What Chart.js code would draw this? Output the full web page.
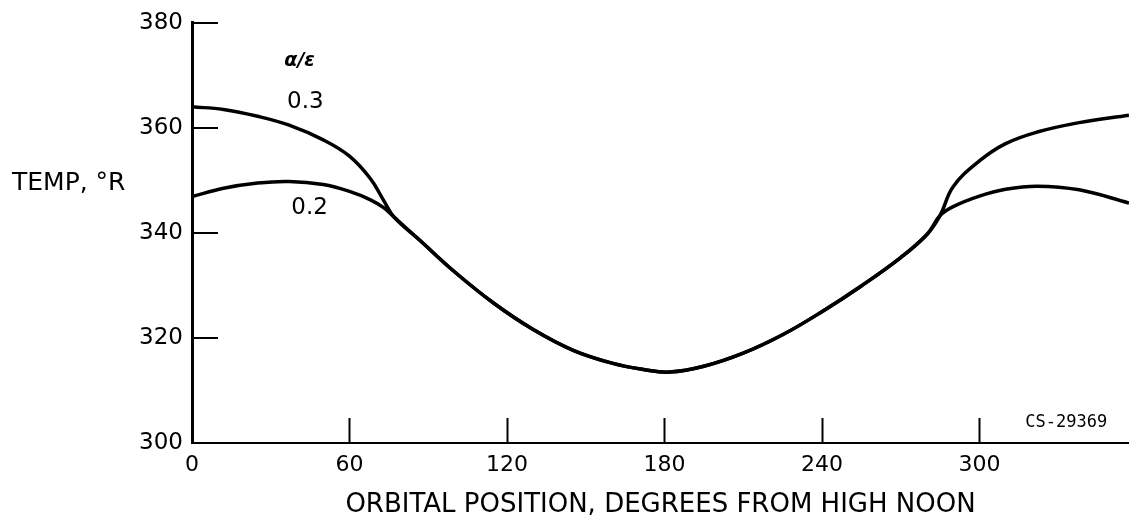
<!DOCTYPE html>
<html>
<head>
<meta charset="utf-8">
<script src="https://cdn.jsdelivr.net/npm/chart.js@4"></script>
<style>
  html, body { margin: 0; padding: 0; background: #fff; }
  #wrap { width: 1129px; height: 521px; }
</style>
</head>
<body>
<div id="wrap"><canvas id="tempChart" width="1129" height="521"></canvas></div>
<script>
// orbital position, degrees from high noon
const angles = [0, 12, 25, 37, 50, 60, 68, 73, 77, 87, 100, 115, 130, 145, 160, 172, 182, 195, 210, 225, 240, 255, 270, 280, 285, 290, 300, 310, 322, 338, 357];
// temperature, deg R, alpha/epsilon = 0.3
const temp03 = [364.0, 363.5, 362.2, 360.5, 357.7, 354.6, 350.3, 346.2, 343.0, 338.5, 332.6, 326.6, 321.6, 317.7, 315.2, 314.0, 313.5, 314.6, 317.1, 320.6, 325.0, 329.9, 335.3, 339.7, 343.3, 348.8, 353.7, 357.0, 359.2, 361.0, 362.4];
// temperature, deg R, alpha/epsilon = 0.2
const temp02 = [346.9, 348.5, 349.5, 349.8, 349.2, 347.9, 346.3, 344.8, 343.0, 338.5, 332.6, 326.6, 321.6, 317.7, 315.2, 314.0, 313.5, 314.6, 317.1, 320.6, 325.0, 329.9, 335.3, 339.7, 343.3, 345.0, 347.0, 348.3, 348.9, 348.2, 345.7];

const xTicks = [0, 60, 120, 180, 240, 300];
const yTicks = [300, 320, 340, 360, 380];
const seriesLabels = ["0.3", "0.2"];
const xTitle = "ORBITAL POSITION, DEGREES FROM HIGH NOON";
const yTitle = "TEMP, \u00B0R";
const ratioTitle = "\u03B1/\u03B5";
const plateNo = "CS-29369";

const FONT = "'DejaVu Sans', sans-serif";

function toPoints(xs, ys) {
  return xs.map((x, i) => ({ x: x, y: ys[i] }));
}

// inward tick marks and the text notes placed on the plot
const notesPlugin = {
  id: "notes",
  afterDraw(chart) {
    const ctx = chart.ctx;
    const xs = chart.scales.x;
    const ys = chart.scales.y;
    ctx.save();
    ctx.strokeStyle = "#000";
    ctx.lineWidth = 2;
    xs.ticks.forEach((t) => {
      if (t.value === xs.min) return;
      const px = Math.round(xs.getPixelForValue(t.value)) + 0.5;
      ctx.beginPath();
      ctx.moveTo(px, ys.bottom);
      ctx.lineTo(px, ys.bottom - 25);
      ctx.stroke();
    });
    ys.ticks.forEach((t) => {
      if (t.value === ys.min) return;
      const py = Math.round(ys.getPixelForValue(t.value));
      ctx.beginPath();
      ctx.moveTo(xs.left, py);
      ctx.lineTo(xs.left + 26, py);
      ctx.stroke();
    });

    ctx.fillStyle = "#000";
    ctx.textBaseline = "middle";
    ctx.textAlign = "left";
    ctx.font = "25px " + FONT;
    ctx.fillText(yTitle, 12, 183);

    ctx.textAlign = "center";
    ctx.font = "italic bold 19px " + FONT;
    ctx.fillText(ratioTitle, xs.getPixelForValue(41), ys.getPixelForValue(372.7));
    ctx.font = "23px " + FONT;
    ctx.fillText(seriesLabels[0], xs.getPixelForValue(43.2), ys.getPixelForValue(365.0));
    ctx.fillText(seriesLabels[1], xs.getPixelForValue(44.8), ys.getPixelForValue(344.7));

    ctx.textAlign = "left";
    ctx.font = "17px 'DejaVu Sans Mono', monospace";
    ctx.fillText(plateNo, xs.getPixelForValue(317.5), ys.getPixelForValue(303.8));
    ctx.restore();
  }
};

const ctx = document.getElementById("tempChart").getContext("2d");
const tempChart = new Chart(ctx, {
  type: "line",
  data: {
    datasets: [
      {
        label: seriesLabels[0],
        data: toPoints(angles, temp03),
        borderColor: "#000",
        borderWidth: 3.5,
        pointRadius: 0,
        tension: 0.4,
        fill: false,
      },
      {
        label: seriesLabels[1],
        data: toPoints(angles, temp02),
        borderColor: "#000",
        borderWidth: 3.5,
        pointRadius: 0,
        tension: 0.4,
        fill: false,
      },
    ],
  },
  options: {
    responsive: false,
    animation: false,
    events: [],
    layout: { padding: { top: 21, right: 0, left: 0, bottom: 0 } },
    plugins: {
      legend: { display: false },
      tooltip: { enabled: false },
    },
    scales: {
      x: {
        type: "linear",
        min: 0,
        max: 357,
        afterBuildTicks: (s) => { s.ticks = xTicks.map((v) => ({ value: v })); },
        afterFit: (s) => { s.height = 78; },
        ticks: {
          color: "#000",
          padding: 9,
          maxRotation: 0,
          autoSkip: false,
          font: { family: FONT, size: 22 },
        },
        grid: { display: false, drawTicks: false },
        border: { display: true, color: "#000", width: 2 },
        title: {
          display: true,
          text: xTitle,
          color: "#000",
          font: { family: FONT, size: 26 },
          padding: { top: 0, bottom: 0 },
        },
      },
      y: {
        type: "linear",
        min: 300,
        max: 380,
        afterBuildTicks: (s) => { s.ticks = yTicks.map((v) => ({ value: v })); },
        afterFit: (s) => { s.width = 192; },
        ticks: {
          color: "#000",
          padding: 9,
          autoSkip: false,
          font: { family: FONT, size: 23 },
        },
        grid: { display: false, drawTicks: false },
        border: { display: true, color: "#000", width: 3 },
      },
    },
  },
  plugins: [notesPlugin],
});
</script>
</body>
</html>
